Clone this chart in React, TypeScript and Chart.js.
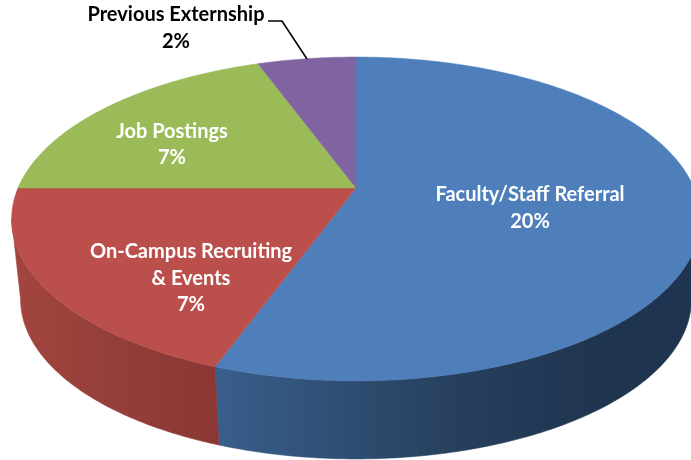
import React, { useEffect, useRef } from "react";
import { Chart, registerables } from "chart.js";

Chart.register(...registerables);

const categories = ["Faculty/Staff Referral", "On-Campus Recruiting & Events", "Job Postings", "Previous Externship"];
const values = [20, 7, 7, 2];
const topColors = ["#4e7fba", "#bb4f4b", "#9bbb59", "#8064a2"];
const wallStops: [number, string][][] = [
  [[220, "#385e8b"], [450, "#27405e"], [600, "#1f344f"], [691, "#1f344f"]],
  [[15, "#a3453f"], [120, "#933e3a"], [220, "#8a3733"]],
  [[0, "#9bbb59"], [1, "#9bbb59"]],
  [[0, "#8064a2"], [1, "#8064a2"]],
];
const labelLines = [
  ["Faculty/Staff Referral", "20%"],
  ["On-Campus Recruiting", "& Events", "7%"],
  ["Job Postings", "7%"],
  ["Previous Externship", "2%"],
];
const labelColors = ["#ffffff", "#ffffff", "#ffffff", "#000000"];
const labelAnchors = [
  { x: 530, y: 201, step: 27 },
  { x: 191, y: 258, step: 26.5 },
  { x: 172, y: 138, step: 26 },
  { x: 176, y: 21, step: 27 },
];
const calloutPath = [[268, 21], [282, 21], [307, 59]];

const PERSPECTIVE = 0.191;
const SQUASH = 0.4615;
const DEPTH = 81;
const LOWER_RIM_X = 0.974;
const LOWER_RIM_Y = 0.985;
const WALL_FROM = (101 * Math.PI) / 180;
const WALL_TO = (259 * Math.PI) / 180;

function project(arc: any, theta: number, lower: boolean): [number, number] {
  const u = Math.sin(theta);
  const v = Math.cos(theta);
  const d = 1 + PERSPECTIVE * v;
  const rx = arc.outerRadius * (lower ? LOWER_RIM_X : 1);
  const ry = arc.outerRadius * SQUASH * (lower ? LOWER_RIM_Y : 1);
  return [arc.x + (rx * u) / d, arc.y + (lower ? DEPTH : 0) - (ry * v) / d];
}

function rim(ctx: CanvasRenderingContext2D, arc: any, a: number, b: number, lower: boolean) {
  const n = Math.max(2, Math.ceil(Math.abs(b - a) * 90));
  for (let i = 0; i <= n; i++) {
    const [x, y] = project(arc, a + ((b - a) * i) / n, lower);
    ctx.lineTo(x, y);
  }
}

const piePerspective = {
  id: "piePerspective",
  beforeDatasetDraw(chart: any, args: any) {
    const ctx: CanvasRenderingContext2D = chart.ctx;
    const arcs = args.meta.data;
    ctx.save();
    arcs.forEach((arc: any, i: number) => {
      const a = Math.max(arc.startAngle + Math.PI / 2, WALL_FROM);
      const b = Math.min(arc.endAngle + Math.PI / 2, WALL_TO);
      if (b <= a) return;
      const stops = wallStops[i];
      const x0 = stops[0][0];
      const x1 = stops[stops.length - 1][0];
      const g = ctx.createLinearGradient(x0, 0, x1, 0);
      stops.forEach(([x, c]) => g.addColorStop((x - x0) / (x1 - x0), c));
      ctx.fillStyle = g;
      ctx.strokeStyle = g;
      ctx.lineWidth = 0.6;
      ctx.beginPath();
      rim(ctx, arc, a, b, false);
      rim(ctx, arc, b, a, true);
      ctx.closePath();
      ctx.fill();
      ctx.stroke();
    });
    arcs.forEach((arc: any) => {
      const color = arc.options.backgroundColor;
      ctx.fillStyle = color;
      ctx.strokeStyle = color;
      ctx.lineWidth = 0.5;
      ctx.beginPath();
      ctx.moveTo(arc.x, arc.y);
      rim(ctx, arc, arc.startAngle + Math.PI / 2, arc.endAngle + Math.PI / 2, false);
      ctx.closePath();
      ctx.fill();
      ctx.stroke();
    });
    ctx.restore();
    return false;
  },
  afterDatasetsDraw(chart: any) {
    const ctx: CanvasRenderingContext2D = chart.ctx;
    ctx.save();
    ctx.font = 'bold 20px Lato, "Open Sans", sans-serif';
    ctx.textAlign = "center";
    ctx.textBaseline = "alphabetic";
    labelLines.forEach((lines, i) => {
      ctx.fillStyle = labelColors[i];
      const p = labelAnchors[i];
      lines.forEach((line, j) => ctx.fillText(line, p.x, p.y + j * p.step));
    });
    ctx.strokeStyle = "#000000";
    ctx.lineWidth = 1.6;
    ctx.beginPath();
    calloutPath.forEach(([x, y], i) => (i ? ctx.lineTo(x, y) : ctx.moveTo(x, y)));
    ctx.stroke();
    ctx.restore();
  },
};

export default function App() {
  const ref = useRef<HTMLCanvasElement>(null);
  useEffect(() => {
    const chart = new Chart(ref.current!, {
      type: "pie",
      data: {
        labels: categories,
        datasets: [{ data: values, backgroundColor: topColors, borderWidth: 0 }],
      },
      options: {
        animation: false,
        responsive: false,
        radius: 338,
        rotation: 0,
        layout: { padding: { left: 21, top: 0, right: 0, bottom: 84 } },
        plugins: { legend: { display: false }, tooltip: { enabled: false } },
      },
      plugins: [piePerspective],
    } as any);
    return () => chart.destroy();
  }, []);
  return (
    <canvas
      ref={ref}
      width={691}
      height={460}
      style={{ position: "fixed", left: 0, top: 0, width: 691, height: 460, background: "#ffffff" }}
    />
  );
}
